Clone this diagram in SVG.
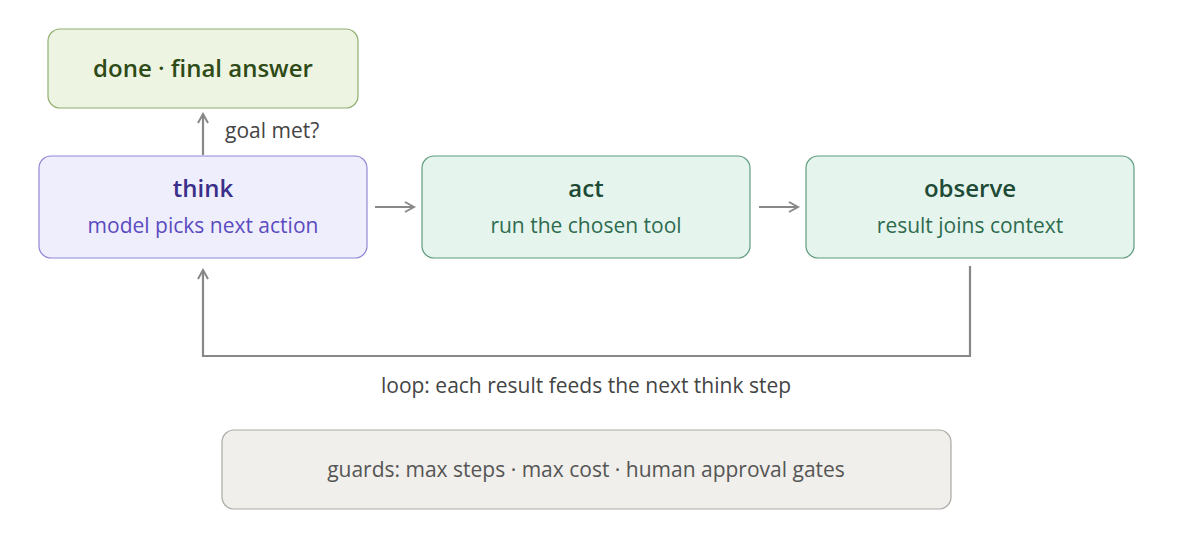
<svg xmlns="http://www.w3.org/2000/svg" width="1194" height="554" viewBox="0 0 1194 554">
<style>
text{font-family:"Open Sans","Liberation Sans",sans-serif;text-anchor:middle}
.t{font-size:24px;font-weight:600}
.s{font-size:21px}
.c{fill:none;stroke:#888;stroke-width:2.2}
</style>
<defs><marker id="a" viewBox="0 0 12 12" refX="10" refY="6" markerWidth="12" markerHeight="12" markerUnits="userSpaceOnUse" orient="auto"><path d="M1,1 L10,6 L1,11" fill="none" stroke="#888" stroke-width="2"/></marker></defs>
<rect width="1194" height="554" fill="#fff"/>
<g id="connectors">
<path class="c" d="M203,155 V114" marker-end="url(#a)"/>
<path class="c" d="M375,207 H414" marker-end="url(#a)"/>
<path class="c" d="M759,207 H798" marker-end="url(#a)"/>
<path class="c" d="M970,266 V356 H203 V270" marker-end="url(#a)"/>
<text x="225" y="138" class="s" fill="#444" style="text-anchor:start">goal met?</text>
<text x="586" y="393" class="s" fill="#444">loop: each result feeds the next think step</text>
</g>
<g id="done"><rect x="48" y="29" width="310" height="79" rx="12" fill="#eef4e2" stroke="#8fae6e" stroke-width="1.2"/><text x="203" y="77" class="t" fill="#2d4a17">done · final answer</text></g>
<g id="think"><rect x="39" y="156" width="328" height="102" rx="12" fill="#efeefc" stroke="#8f88d4" stroke-width="1.2"/><text x="203" y="197" class="t" fill="#3a2f8a">think</text><text x="203" y="233" class="s" fill="#5a4bc0">model picks next action</text></g>
<g id="act"><rect x="422" y="156" width="328" height="102" rx="12" fill="#e5f5ee" stroke="#5f9c7e" stroke-width="1.2"/><text x="586" y="197" class="t" fill="#1e4a36">act</text><text x="586" y="233" class="s" fill="#2e6b4e">run the chosen tool</text></g>
<g id="observe"><rect x="806" y="156" width="328" height="102" rx="12" fill="#e5f5ee" stroke="#5f9c7e" stroke-width="1.2"/><text x="970" y="197" class="t" fill="#1e4a36">observe</text><text x="970" y="233" class="s" fill="#2e6b4e">result joins context</text></g>
<g id="guards"><rect x="222" y="430" width="729" height="79" rx="12" fill="#f0efeb" stroke="#aaa9a4" stroke-width="1.2"/><text x="586" y="477" class="s" fill="#555">guards: max steps · max cost · human approval gates</text></g>
</svg>
